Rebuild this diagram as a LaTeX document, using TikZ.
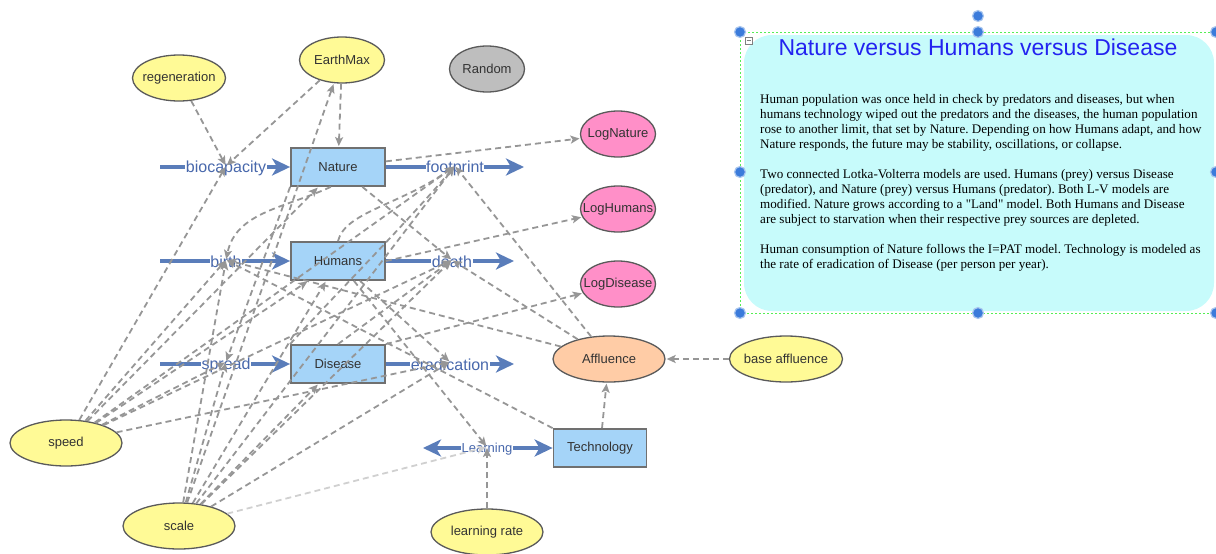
\documentclass[tikz,border=0pt]{standalone}
\usepackage{fontspec}
\setmainfont{Liberation Sans}
\newfontfamily\bodyserif{Liberation Serif}
\usetikzlibrary{arrows.meta,shapes.geometric}
\definecolor{stockfill}{HTML}{A5D4F8}
\definecolor{stockdraw}{HTML}{707070}
\definecolor{elldraw}{HTML}{5A5A5A}
\definecolor{yellowc}{HTML}{FFFA96}
\definecolor{pinkc}{HTML}{FF8FC8}
\definecolor{peachc}{HTML}{FFCCA6}
\definecolor{grayc}{HTML}{BEBEBE}
\definecolor{flowc}{HTML}{5A7DBA}
\definecolor{flowtext}{HTML}{4868AC}
\definecolor{linkc}{HTML}{969696}
\definecolor{lightlinkc}{HTML}{D0D0D0}
\definecolor{nodetext}{HTML}{333333}
\definecolor{cyanbox}{HTML}{C7FBFB}
\definecolor{greendot}{HTML}{55EE55}
\definecolor{handlec}{HTML}{3B7BDB}
\definecolor{handleedge}{HTML}{A9C6EE}
\definecolor{titleblue}{HTML}{2323F0}
\newcommand{\tl}[1]{\makebox[0pt]{#1}}
\begin{document}
\frenchspacing
\begin{tikzpicture}[x=1pt,y=-1pt,
  ell/.style={ellipse, draw=elldraw, line width=1.3pt, inner sep=0pt, minimum height=46pt, text=nodetext, font=\fontsize{13}{15}\selectfont},
  stockbox/.style={rectangle, draw=stockdraw, fill=stockfill, line width=1.8pt, minimum width=94pt, minimum height=38pt, inner sep=0pt, text=nodetext, font=\fontsize{13}{15}\selectfont},
  flowline/.style={draw=flowc, line width=4pt, -{Stealth[length=18pt,width=17pt,inset=5pt]}},
  flowboth/.style={draw=flowc, line width=4pt, {Stealth[length=18pt,width=17pt,inset=5pt]}-{Stealth[length=18pt,width=17pt,inset=5pt]}},
  flowlabel/.style={fill=white, inner sep=0.5pt, text=flowtext, font=\fontsize{16}{18}\selectfont},
  link/.style={draw=linkc, line width=1.8pt, dash pattern=on 6pt off 4pt, -{Stealth[length=9pt,width=8pt,inset=2pt]}, shorten >=1pt},
  lightlink/.style={link, draw=lightlinkc},
  bodytxt/.style={anchor=base west, inner sep=0pt, font=\bodyserif\fontsize{13.1}{15}\selectfont, text=black},
  handle/.style={fill=handlec, draw=handleedge, line width=1.2pt}
]
\useasboundingbox (0,0) rectangle (1216,554);

% ---------- text box ----------
\fill[cyanbox, rounded corners=28pt] (744,35) rectangle (1214,311);
\draw[greendot, line width=1pt, dash pattern=on 2pt off 2pt] (740,32) rectangle (1216,313);
\draw[gray, fill=white, line width=0.6pt] (745,37) rectangle (752,44);
\draw[gray, line width=0.8pt] (746.5,40.5) -- (750.5,40.5);
\node[inner sep=0pt, text=titleblue, font=\fontsize{23}{26}\selectfont] (title) at (978,47) {Nature versus Humans versus Disease};
\node[bodytxt] (b1) at (760,103) {Human population was once held in check by predators and diseases, but when};
\node[bodytxt] (b2) at (760,118) {humans technology wiped out the predators and the diseases, the human population};
\node[bodytxt] (b3) at (760,133) {rose to another limit, that set by Nature. Depending on how Humans adapt, and how};
\node[bodytxt] (b4) at (760,148) {Nature responds, the future may be stability, oscillations, or collapse.};
\node[bodytxt] (b5) at (760,178) {Two connected Lotka-Volterra models are used. Humans (prey) versus Disease};
\node[bodytxt] (b6) at (760,193) {(predator), and Nature (prey) versus Humans (predator). Both L-V models are};
\node[bodytxt] (b7) at (760,208) {modified. Nature grows according to a "Land" model. Both Humans and Disease};
\node[bodytxt] (b8) at (760,223) {are subject to starvation when their respective prey sources are depleted.};
\node[bodytxt] (b9) at (760,253) {Human consumption of Nature follows the I=PAT model. Technology is modeled as};
\node[bodytxt] (b10) at (760,268) {the rate of eradication of Disease (per person per year).};
\foreach \hx/\hy in {740/32, 978/32, 978/16, 1216/32, 740/172, 1216/172, 740/313, 978/313, 1216/313}
  \filldraw[handle] (\hx,\hy) circle (5.5pt);

% ---------- nodes ----------
\node[ell, fill=yellowc, minimum width=93pt] (regen) at (179,78) {\tl{regeneration}};
\node[ell, fill=yellowc, minimum width=85pt] (earth) at (342,60) {\tl{EarthMax}};
\node[ell, fill=grayc, minimum width=75pt] (random) at (487,69) {\tl{Random}};
\node[ell, fill=pinkc, minimum width=75pt] (lognat) at (618,134) {\tl{LogNature}};
\node[ell, fill=pinkc, minimum width=75pt] (loghum) at (618,209) {\tl{LogHumans}};
\node[ell, fill=pinkc, minimum width=75pt] (logdis) at (618,284) {\tl{LogDisease}};
\node[ell, fill=peachc, minimum width=112pt] (affl) at (609,359) {\tl{Affluence}};
\node[ell, fill=yellowc, minimum width=113pt] (baseaff) at (786,359) {\tl{base affluence}};
\node[ell, fill=yellowc, minimum width=112pt] (speed) at (66,443) {\tl{speed}};
\node[ell, fill=yellowc, minimum width=112pt] (scale) at (179,526) {\tl{scale}};
\node[ell, fill=yellowc, minimum width=112pt] (lrate) at (487,532) {\tl{learning rate}};

\node[stockbox] (nature) at (338,167) {Nature};
\node[stockbox] (humans) at (338,261) {Humans};
\node[stockbox] (disease) at (338,364) {Disease};
\node[stockbox, minimum width=93pt] (tech) at (600,448) {Technology};

% ---------- flows ----------
\coordinate (bioS) at (160,167);
\coordinate (birthS) at (160,261);
\coordinate (spreadS) at (160,364);
\coordinate (footE) at (524,167);
\coordinate (deathE) at (514,261);
\coordinate (eradE) at (514,364);
\coordinate (learnW) at (423,448);
\draw[flowline] (bioS) -- (nature);
\draw[flowline] (birthS) -- (humans);
\draw[flowline] (spreadS) -- (disease);
\draw[flowline] (nature) -- (footE);
\draw[flowline] (humans) -- (deathE);
\draw[flowline] (disease) -- (eradE);
\draw[flowboth] (learnW) -- (tech);

\node[flowlabel] (bioT) at (226,168) {biocapacity};
\node[flowlabel] (birthT) at (226,262) {birth};
\node[flowlabel] (spreadT) at (226,365) {spread};
\node[flowlabel] (footT) at (455,168) {footprint};
\node[flowlabel] (deathT) at (452,262) {death};
\node[flowlabel] (eradT) at (450,365) {eradication};
\node[flowlabel, font=\fontsize{13}{15}\selectfont] (learnT) at (487,449) {Learning};

\coordinate (bioL) at (226,166);
\coordinate (birthL) at (226,260);
\coordinate (spreadL) at (226,362);
\coordinate (footL) at (455,166);
\coordinate (deathL) at (452,260);
\coordinate (eradL) at (450,362);
\coordinate (learnL) at (487,447);

% ---------- links ----------
\draw[link] (regen) -- (bioL);
\draw[link] (earth) -- (bioL);
\draw[link] (earth) -- (nature);
\draw[link] (nature) -- (lognat);
\draw[link] (humans.east) -- (loghum);
\draw[link] (disease.north east) -- (logdis);
\draw[link] (baseaff) -- (affl);
\draw[link] (tech) -- (affl);
\draw[link] (lrate) -- (learnL);
\draw[link] (affl) -- (footL);
\draw[link] (affl) -- (birthL);
\draw[link] (affl) -- (deathL);
\draw[link] (tech.north west) -- (birthL);
\draw[link] (nature) -- (deathL);
\draw[link] (nature.250) .. controls (285,208) and (236,212) .. (birthL);
\draw[link] (humans.north) .. controls (345,212) and (400,205) .. (footL);
\draw[link] (nature.south west) -- (spreadL);
\draw[link] (humans) -- (learnL);
\draw[link] (humans) -- (eradL);
\draw[link] (disease.north) -- (deathL);
\draw[link] (disease.north west) .. controls (330,300) and (400,230) .. (footL);

\draw[link] (speed) -- (bioL);
\draw[link] (speed) -- (birthL);
\draw[link] (speed) -- (nature);
\draw[link] (speed) -- (humans);
\draw[link] (speed) -- (footL);
\draw[link] (speed) -- (deathL);
\draw[link] (speed) -- (spreadL);
\draw[link] (speed) -- (eradL);

\draw[link] (scale) -- (earth);
\draw[link] (scale) -- (humans);
\draw[link] (scale) -- (disease);
\draw[link] (scale) -- (footL);
\draw[link] (scale) -- (deathL);
\draw[link] (scale) -- (birthL);
\draw[link] (scale) -- (spreadL);
\draw[link] (scale) -- (eradL);
\draw[lightlink] (scale) -- (learnL);
\end{tikzpicture}
\end{document}
